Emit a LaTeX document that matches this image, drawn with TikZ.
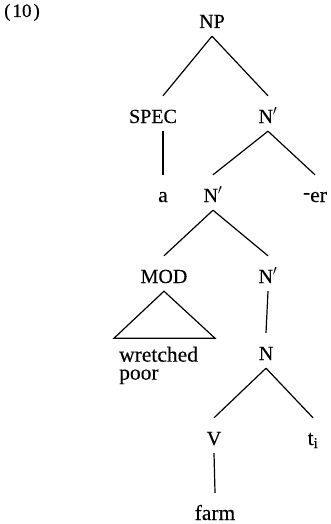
\documentclass[tikz,border=0pt]{standalone}
\usepackage{fontspec}
\setmainfont{Liberation Serif}[FakeBold=0.25]
\begin{document}
\begin{tikzpicture}[x=1pt,y=-1pt,
  lbl/.style={font=\fontsize{20}{24}\selectfont, inner sep=0pt,
              text height=27pt, text depth=8pt, anchor=base},
  word/.style={lbl, font=\fontsize{21.5}{24}\selectfont},
  leaf/.style={font=\fontsize{21.5}{18}\selectfont, inner sep=0pt,
               align=left, anchor=north west},
  branch/.style={line width=1.2pt}]
\useasboundingbox (0,0) rectangle (331,524);

% example number
\node[font=\fontsize{19}{22}\selectfont, inner sep=0pt, anchor=base west] (ex) at (4,17) {(\kern2pt10\kern2pt)};

% tree labels
\node[lbl]  (np)   at (212,28)  {NP};
\node[lbl]  (spec) at (153,123) {SPEC};
\node[lbl]  (nb1)  at (268,123) {N$'$};
\node[word] (a)    at (163,202) {a};
\node[lbl]  (nb2)  at (213,202) {N$'$};
\node[word] (er)   at (315,202) {\raisebox{3pt}{-}er};
\node[lbl]  (mod)  at (164,283) {MOD};
\node[lbl]  (nb3)  at (268,283) {N$'$};
\node[leaf] (ws)   at (119,346.5) {wretched\\poor};
\node[lbl]  (n)    at (266,360) {N};
\node[lbl]  (v)    at (214,445) {V};
\node[word] (t)    at (313,445) {t$_\mathrm{i}$};
\node[word] (farm) at (215,520) {farm};

% branches
\draw[branch] (np.south) -- (a.north |- spec.north);
\draw[branch] (np.south) -- (nb1.north);
\draw[branch] (a.north |- spec.south) -- (a.north);
\draw[branch] (nb1.south) -- (nb2.north);
\draw[branch] (nb1.south) -- (er.north);
\draw[branch] (nb2.south) -- (mod.north);
\draw[branch] (nb2.south) -- (nb3.north);
\draw[branch] (nb3.south) -- (n.north);
\draw[branch] (n.south) -- (v.north);
\draw[branch] (n.south) -- (t.north);
\draw[branch] (v.south) -- (farm.north);

% triangle over the modifier
\draw[branch] (mod.south) -- ++(-50,47) -- ++(101,0) -- cycle;
\end{tikzpicture}
\end{document}
